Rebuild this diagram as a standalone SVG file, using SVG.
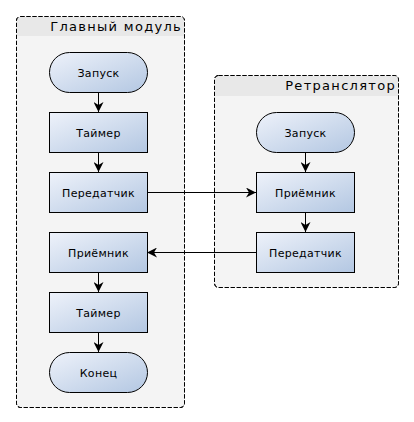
<svg xmlns="http://www.w3.org/2000/svg" width="414" height="422" viewBox="0 0 414 422">
<defs>
<linearGradient id="g" x1="0" y1="0" x2="1" y2="1">
<stop offset="0" stop-color="#eef2fa"/>
<stop offset="1" stop-color="#b3c7e2"/>
</linearGradient>
<marker id="arr" viewBox="0 0 10 10" refX="10" refY="5" markerWidth="10" markerHeight="10" markerUnits="userSpaceOnUse" orient="auto">
<path d="M0,0 L10,5 L0,10 L3,5 Z" fill="#000"/>
</marker>
</defs>
<style>
.cont{fill:#f4f4f4;stroke:#000;stroke-width:1;stroke-dasharray:4,2}
.frame{fill:none;stroke:#000;stroke-width:1;stroke-dasharray:4,2}
.hdr{fill:#e8e8e8}
.title{font-family:"DejaVu Sans",sans-serif;font-size:13px;letter-spacing:1.3px;fill:#000}
.box{fill:url(#g);stroke:#000;stroke-width:1}
.lbl{font-family:"DejaVu Sans",sans-serif;font-size:11px;letter-spacing:0.3px;fill:#000;text-anchor:middle}
.con{stroke:#000;stroke-width:1;fill:none;marker-end:url(#arr)}
</style>
<rect width="414" height="422" fill="#fff"/>
<g id="main">
<rect class="cont" x="16.5" y="16.5" width="168" height="391" rx="4"/>
<path class="hdr" d="M17,36 V21 Q17,17 21,17 H184 V36 Z"/>
<rect class="frame" x="16.5" y="16.5" width="168" height="391" rx="4"/>
<text class="title" x="182" y="31" text-anchor="end">Главный модуль</text>
</g>
<g id="relay">
<rect class="cont" x="214.5" y="75.5" width="184" height="212" rx="4"/>
<path class="hdr" d="M215,96 V80 Q215,76 219,76 H398 V96 Z"/>
<rect class="frame" x="214.5" y="75.5" width="184" height="212" rx="4"/>
<text class="title" x="396" y="90" text-anchor="end">Ретранслятор</text>
</g>
<g id="connectors">
<line class="con" x1="98.5" y1="92" x2="98.5" y2="112"/>
<line class="con" x1="98.5" y1="152" x2="98.5" y2="172"/>
<line class="con" x1="98.5" y1="272" x2="98.5" y2="292"/>
<line class="con" x1="98.5" y1="332" x2="98.5" y2="352"/>
<line class="con" x1="305.5" y1="152" x2="305.5" y2="172"/>
<line class="con" x1="305.5" y1="212" x2="305.5" y2="232"/>
<line class="con" x1="147" y1="192.5" x2="256" y2="192.5"/>
<line class="con" x1="256" y1="252.5" x2="147" y2="252.5"/>
</g>
<g id="n1"><rect class="box" x="49.5" y="52.5" width="98" height="40" rx="20"/><text class="lbl" x="98.5" y="76.5">Запуск</text></g>
<g id="n2"><rect class="box" x="49.5" y="112.5" width="98" height="40"/><text class="lbl" x="98.5" y="136.5">Таймер</text></g>
<g id="n3"><rect class="box" x="49.5" y="172.5" width="98" height="40"/><text class="lbl" x="98.5" y="196.5">Передатчик</text></g>
<g id="n4"><rect class="box" x="49.5" y="232.5" width="98" height="40"/><text class="lbl" x="98.5" y="256.5">Приёмник</text></g>
<g id="n5"><rect class="box" x="49.5" y="292.5" width="98" height="40"/><text class="lbl" x="98.5" y="316.5">Таймер</text></g>
<g id="n6"><rect class="box" x="49.5" y="352.5" width="98" height="40" rx="20"/><text class="lbl" x="98.5" y="376.5">Конец</text></g>
<g id="r1"><rect class="box" x="256.5" y="112.5" width="98" height="40" rx="20"/><text class="lbl" x="305.5" y="136.5">Запуск</text></g>
<g id="r2"><rect class="box" x="256.5" y="172.5" width="98" height="40"/><text class="lbl" x="305.5" y="196.5">Приёмник</text></g>
<g id="r3"><rect class="box" x="256.5" y="232.5" width="98" height="40"/><text class="lbl" x="305.5" y="256.5">Передатчик</text></g>
</svg>
